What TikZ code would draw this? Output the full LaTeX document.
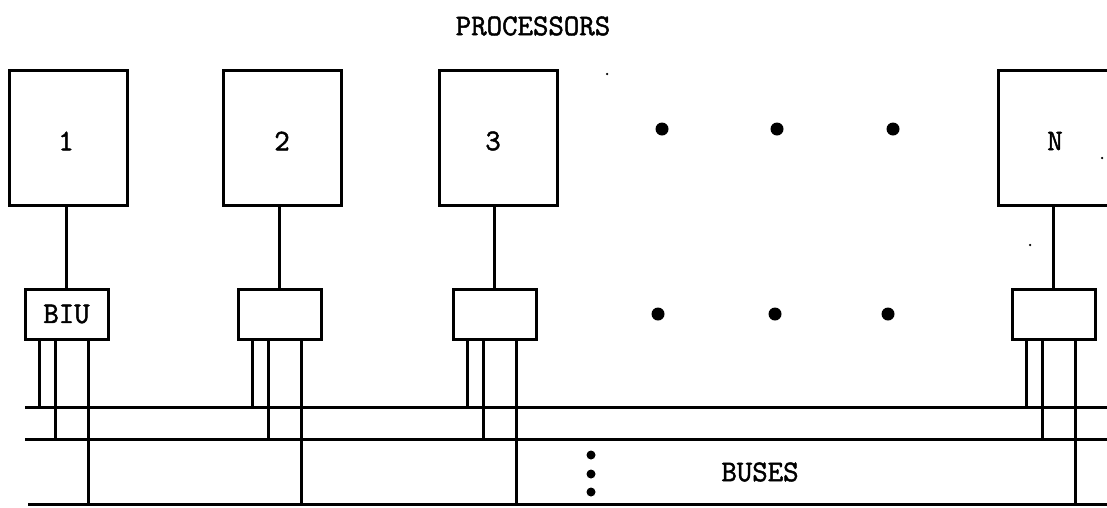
\documentclass[tikz,border=0pt]{standalone}
\usepackage{fontspec}
\newfontfamily\typew[FakeBold=1.6]{Latin Modern Mono}
\begin{document}
\begin{tikzpicture}[x=1pt,y=-1pt,
  proc/.style={draw, line width=3pt, minimum width=118pt, minimum height=135pt, inner sep=0pt},
  biu/.style={draw, line width=3pt, minimum width=83pt, minimum height=50pt, inner sep=0pt, font=\fontsize{30}{36}\selectfont\typew},
  wire/.style={line width=2.2pt},
  busline/.style={line width=3pt},
  lbl/.style={font=\fontsize{30}{36}\selectfont\typew, inner sep=0pt},
  bigdot/.style={fill=black, circle, inner sep=0pt, minimum size=13pt},
  smalldot/.style={fill=black, circle, inner sep=0pt, minimum size=9pt},
  speck/.style={fill=black, circle, inner sep=0pt, minimum size=2.5pt}]
\useasboundingbox (0,0) rectangle (1107,507);
\clip (0,0) rectangle (1107,507);
% title
\node[lbl] (title) at (533,26) {PROCESSORS};
% processors
\node[proc] (p1) at (68,137.5) {};
\node[proc] (p2) at (282,137.5) {};
\node[proc] (p3) at (498,137.5) {};
\node[proc, minimum width=122pt] (pN) at (1059,137.5) {};
\node[lbl] (l1) at (66,141) {1};
\node[lbl] (l2) at (282,141) {2};
\node[lbl] (l3) at (493,141) {3};
\node[lbl] (lN) at (1055,141) {N};
% BIUs
\node[biu] (b1) at (66.5,314) {BIU};
\node[biu] (b2) at (279.5,314) {};
\node[biu] (b3) at (494.5,314) {};
\node[biu] (bN) at (1053.5,314) {};
% processor to BIU connectors
\foreach \p/\b in {p1/b1,p2/b2,p3/b3,pN/bN}
  \draw[wire] (\b.north) -- (\b.north |- \p.south);
% buses
\coordinate (bus1L) at (25,407);
\coordinate (bus1R) at (1110,407);
\coordinate (bus2L) at (25,439);
\coordinate (bus2R) at (1110,439);
\coordinate (bus3L) at (28,504);
\coordinate (bus3R) at (1110,504);
\draw[busline] (bus1L) -- (bus1R);
\draw[busline] (bus2L) -- (bus2R);
\draw[busline] (bus3L) -- (bus3R);
% BIU pins to buses
\foreach \b in {b1,b2,b3,bN}{
  \draw[wire] ([xshift=16pt]\b.south west) -- ([xshift=16pt]\b.south west |- bus1L);
  \draw[wire] ([xshift=32pt]\b.south west) -- ([xshift=32pt]\b.south west |- bus2L);
  \draw[wire] ([xshift=65pt]\b.south west) -- ([xshift=65pt]\b.south west |- bus3L);
}
% ellipsis dots
\node[bigdot] (d1) at (662,129) {};
\node[bigdot] (d2) at (777,129) {};
\node[bigdot] (d3) at (893,129) {};
\node[bigdot] (d4) at (658,314) {};
\node[bigdot] (d5) at (775,314) {};
\node[bigdot] (d6) at (888,314) {};
\node[smalldot] (v1) at (591,455) {};
\node[smalldot] (v2) at (591,474) {};
\node[smalldot] (v3) at (591,492) {};
\node[lbl] (buses) at (760,472) {BUSES};
% specks
\node[speck] (s1) at (607,74) {};
\node[speck] (s2) at (1102,158) {};
\node[speck] (s3) at (1030,245) {};
\end{tikzpicture}
\end{document}
